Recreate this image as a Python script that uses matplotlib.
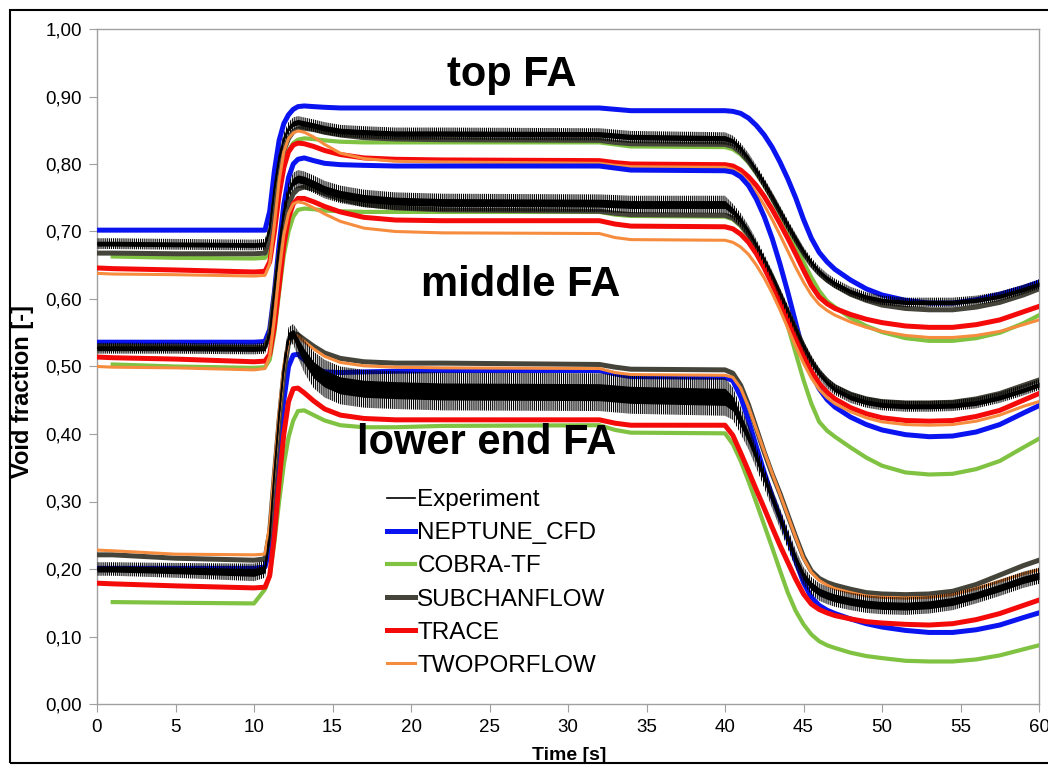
import numpy as np
import matplotlib.pyplot as plt
from matplotlib.ticker import FuncFormatter, MultipleLocator
from matplotlib.patches import Rectangle

plt.rcParams['font.family'] = ['Liberation Sans', 'DejaVu Sans']
plt.rcParams['hatch.linewidth'] = 0.8

# time knots [s], shared by all curves
t = [0, 1, 5, 10, 10.7, 11.0, 11.3, 11.6, 11.9, 12.2, 12.5, 12.8, 13.2, 13.8, 14.5, 15.5, 17, 19, 22, 32, 33, 34,
     40, 40.5, 41, 41.5, 42, 42.5, 43, 43.5, 44, 44.5, 45, 45.5, 46, 46.5, 47, 48, 49, 50, 51.5, 53, 54.5, 56, 57.5, 59, 60]
nan = np.nan

# ---------------- top FA ----------------
neptune_top = [0.702, 0.702, 0.702, 0.702, 0.702, 0.73, 0.79, 0.835, 0.86, 0.873, 0.881, 0.885, 0.886, 0.885, 0.884, 0.883, 0.883, 0.883, 0.883, 0.883, 0.881, 0.879,
               0.879, 0.878, 0.875, 0.868, 0.857, 0.843, 0.825, 0.803, 0.778, 0.750, 0.718, 0.690, 0.669, 0.655, 0.644, 0.628, 0.615, 0.606, 0.598, 0.594, 0.594, 0.599, 0.607, 0.617, 0.625]
cobra_top = [nan, 0.663, 0.661, 0.660, 0.661, 0.672, 0.71, 0.76, 0.797, 0.82, 0.831, 0.836, 0.838, 0.837, 0.835, 0.833, 0.832, 0.832, 0.832, 0.832, 0.829, 0.826,
             0.825, 0.822, 0.814, 0.802, 0.786, 0.768, 0.748, 0.726, 0.703, 0.680, 0.655, 0.632, 0.612, 0.597, 0.588, 0.572, 0.560, 0.551, 0.542, 0.538, 0.538, 0.542, 0.550, 0.564, 0.576]
subchan_top = [0.668, 0.668, 0.667, 0.667, 0.668, 0.69, 0.745, 0.79, 0.82, 0.838, 0.848, 0.852, 0.853, 0.851, 0.847, 0.843, 0.839, 0.837, 0.836, 0.835, 0.832, 0.830,
               0.829, 0.826, 0.817, 0.804, 0.788, 0.770, 0.750, 0.729, 0.708, 0.688, 0.668, 0.651, 0.638, 0.628, 0.620, 0.607, 0.598, 0.591, 0.586, 0.584, 0.584, 0.588, 0.595, 0.606, 0.615]
trace_top = [0.646, 0.645, 0.643, 0.640, 0.641, 0.655, 0.70, 0.755, 0.795, 0.818, 0.828, 0.831, 0.830, 0.826, 0.82, 0.814, 0.809, 0.807, 0.806, 0.805, 0.802, 0.800,
             0.799, 0.797, 0.791, 0.781, 0.768, 0.752, 0.733, 0.712, 0.690, 0.667, 0.643, 0.620, 0.603, 0.593, 0.586, 0.577, 0.570, 0.565, 0.560, 0.558, 0.558, 0.562, 0.569, 0.581, 0.589]
twopor_top = [0.638, 0.637, 0.636, 0.634, 0.635, 0.652, 0.71, 0.775, 0.818, 0.838, 0.846, 0.849, 0.847, 0.84, 0.829, 0.816, 0.808, 0.804, 0.803, 0.801, 0.798, 0.796,
              0.795, 0.792, 0.785, 0.773, 0.757, 0.739, 0.718, 0.695, 0.671, 0.647, 0.625, 0.606, 0.592, 0.583, 0.576, 0.566, 0.558, 0.552, 0.546, 0.543, 0.543, 0.546, 0.552, 0.562, 0.569]
exp_top = [0.682, 0.682, 0.681, 0.680, 0.681, 0.705, 0.765, 0.81, 0.838, 0.853, 0.860, 0.862, 0.860, 0.857, 0.853, 0.849, 0.847, 0.845, 0.845, 0.844, 0.842, 0.840,
           0.838, 0.834, 0.823, 0.808, 0.790, 0.771, 0.751, 0.730, 0.709, 0.689, 0.670, 0.654, 0.641, 0.631, 0.623, 0.611, 0.603, 0.598, 0.595, 0.595, 0.595, 0.598, 0.604, 0.614, 0.622]
exp_top_spread = [0.008, 0.008, 0.008, 0.008, 0.008, 0.008, 0.008, 0.008, 0.008, 0.009, 0.009, 0.009, 0.009, 0.009, 0.009, 0.009, 0.009, 0.009, 0.009, 0.009, 0.009, 0.009,
                  0.009, 0.008, 0.008, 0.008, 0.008, 0.008, 0.008, 0.008, 0.008, 0.008, 0.007, 0.007, 0.007, 0.007, 0.007, 0.007, 0.007, 0.007, 0.007, 0.007, 0.007, 0.007, 0.007, 0.007, 0.007]

# ---------------- middle FA ----------------
neptune_mid = [0.536, 0.536, 0.536, 0.536, 0.537, 0.555, 0.61, 0.68, 0.74, 0.78, 0.80, 0.807, 0.809, 0.805, 0.801, 0.799, 0.798, 0.797, 0.797, 0.797, 0.794, 0.791,
               0.790, 0.788, 0.781, 0.768, 0.748, 0.722, 0.690, 0.652, 0.610, 0.565, 0.520, 0.490, 0.467, 0.451, 0.440, 0.425, 0.414, 0.406, 0.399, 0.396, 0.397, 0.403, 0.414, 0.431, 0.442]
cobra_mid = [nan, 0.503, 0.500, 0.498, 0.499, 0.51, 0.55, 0.61, 0.665, 0.70, 0.722, 0.732, 0.734, 0.733, 0.731, 0.730, 0.729, 0.729, 0.729, 0.729, 0.725, 0.723,
             0.722, 0.718, 0.708, 0.693, 0.674, 0.652, 0.627, 0.596, 0.560, 0.520, 0.480, 0.445, 0.418, 0.405, 0.396, 0.380, 0.365, 0.353, 0.343, 0.340, 0.341, 0.348, 0.360, 0.380, 0.393]
subchan_mid = [0.530, 0.530, 0.529, 0.528, 0.529, 0.548, 0.605, 0.665, 0.71, 0.74, 0.756, 0.763, 0.766, 0.763, 0.756, 0.748, 0.740, 0.735, 0.732, 0.730, 0.727, 0.725,
               0.724, 0.720, 0.710, 0.695, 0.676, 0.655, 0.632, 0.607, 0.581, 0.555, 0.530, 0.508, 0.491, 0.479, 0.470, 0.459, 0.452, 0.448, 0.446, 0.446, 0.447, 0.452, 0.460, 0.472, 0.480]
trace_mid = [0.514, 0.513, 0.511, 0.507, 0.508, 0.518, 0.56, 0.62, 0.68, 0.72, 0.741, 0.749, 0.749, 0.744, 0.737, 0.729, 0.721, 0.717, 0.716, 0.716, 0.711, 0.708,
             0.707, 0.704, 0.696, 0.684, 0.667, 0.646, 0.622, 0.596, 0.569, 0.542, 0.516, 0.493, 0.475, 0.462, 0.452, 0.439, 0.430, 0.424, 0.420, 0.419, 0.420, 0.426, 0.435, 0.450, 0.460]
twopor_mid = [0.500, 0.499, 0.498, 0.495, 0.497, 0.515, 0.57, 0.64, 0.695, 0.727, 0.741, 0.744, 0.742, 0.735, 0.726, 0.715, 0.705, 0.700, 0.698, 0.697, 0.691, 0.688,
              0.687, 0.684, 0.677, 0.666, 0.650, 0.631, 0.609, 0.584, 0.557, 0.530, 0.505, 0.483, 0.466, 0.454, 0.445, 0.433, 0.424, 0.418, 0.414, 0.413, 0.414, 0.419, 0.428, 0.441, 0.448]
exp_mid = [0.527, 0.527, 0.527, 0.526, 0.527, 0.55, 0.615, 0.68, 0.73, 0.76, 0.774, 0.778, 0.776, 0.770, 0.762, 0.755, 0.749, 0.745, 0.743, 0.742, 0.741, 0.740,
           0.740, 0.730, 0.717, 0.700, 0.680, 0.658, 0.634, 0.608, 0.582, 0.556, 0.530, 0.508, 0.490, 0.476, 0.466, 0.454, 0.447, 0.443, 0.441, 0.441, 0.442, 0.446, 0.454, 0.465, 0.473]
exp_mid_spread = [0.008, 0.008, 0.008, 0.008, 0.008, 0.008, 0.009, 0.010, 0.011, 0.012, 0.013, 0.013, 0.013, 0.013, 0.013, 0.013, 0.013, 0.013, 0.013, 0.013, 0.013, 0.013,
                  0.013, 0.011, 0.010, 0.009, 0.008, 0.008, 0.008, 0.008, 0.008, 0.008, 0.008, 0.008, 0.008, 0.008, 0.008, 0.008, 0.008, 0.008, 0.008, 0.008, 0.008, 0.008, 0.008, 0.008, 0.008]

# ---------------- lower end FA ----------------
neptune_low = [0.201, 0.201, 0.201, 0.201, 0.203, 0.23, 0.30, 0.38, 0.45, 0.50, 0.517, 0.518, 0.51, 0.498, 0.492, 0.491, 0.492, 0.493, 0.494, 0.494, 0.489, 0.485,
               0.484, 0.479, 0.455, 0.420, 0.381, 0.343, 0.308, 0.277, 0.245, 0.212, 0.180, 0.158, 0.146, 0.139, 0.134, 0.126, 0.119, 0.114, 0.109, 0.106, 0.106, 0.110, 0.117, 0.128, 0.135]
cobra_low = [nan, 0.151, 0.150, 0.149, 0.17, 0.19, 0.24, 0.30, 0.355, 0.395, 0.42, 0.434, 0.435, 0.428, 0.42, 0.413, 0.41, 0.41, 0.412, 0.413, 0.406, 0.402,
             0.401, 0.385, 0.36, 0.330, 0.298, 0.265, 0.232, 0.198, 0.165, 0.138, 0.118, 0.103, 0.093, 0.087, 0.083, 0.076, 0.071, 0.068, 0.064, 0.063, 0.063, 0.066, 0.072, 0.081, 0.087]
subchan_low = [0.221, 0.221, 0.216, 0.213, 0.215, 0.255, 0.34, 0.42, 0.49, 0.535, 0.549, 0.547, 0.540, 0.530, 0.520, 0.512, 0.507, 0.505, 0.505, 0.503, 0.499, 0.496,
               0.495, 0.490, 0.472, 0.443, 0.408, 0.373, 0.341, 0.312, 0.280, 0.248, 0.218, 0.197, 0.186, 0.180, 0.176, 0.170, 0.165, 0.163, 0.162, 0.163, 0.167, 0.177, 0.191, 0.205, 0.213]
trace_low = [0.179, 0.178, 0.175, 0.172, 0.173, 0.19, 0.25, 0.33, 0.40, 0.448, 0.467, 0.468, 0.461, 0.449, 0.437, 0.428, 0.423, 0.421, 0.421, 0.421, 0.416, 0.413,
             0.413, 0.398, 0.372, 0.345, 0.317, 0.290, 0.262, 0.235, 0.210, 0.185, 0.163, 0.148, 0.140, 0.135, 0.131, 0.126, 0.122, 0.120, 0.118, 0.117, 0.119, 0.125, 0.134, 0.146, 0.154]
twopor_low = [0.228, 0.227, 0.222, 0.221, 0.222, 0.265, 0.35, 0.43, 0.50, 0.538, 0.548, 0.545, 0.537, 0.526, 0.515, 0.506, 0.501, 0.499, 0.498, 0.497, 0.491, 0.488,
              0.487, 0.484, 0.468, 0.440, 0.407, 0.374, 0.342, 0.311, 0.279, 0.247, 0.216, 0.195, 0.183, 0.176, 0.171, 0.165, 0.160, 0.158, 0.157, 0.158, 0.162, 0.171, 0.182, 0.193, 0.199]
exp_low = [0.200, 0.200, 0.198, 0.195, 0.20, 0.25, 0.345, 0.43, 0.50, 0.545, 0.548, 0.533, 0.515, 0.495, 0.482, 0.472, 0.467, 0.465, 0.463, 0.462, 0.460, 0.458,
           0.455, 0.445, 0.420, 0.395, 0.365, 0.335, 0.305, 0.275, 0.245, 0.215, 0.190, 0.175, 0.166, 0.161, 0.157, 0.152, 0.148, 0.146, 0.145, 0.147, 0.152, 0.161, 0.172, 0.184, 0.190]
exp_low_spread = [0.010, 0.010, 0.011, 0.013, 0.013, 0.013, 0.013, 0.013, 0.013, 0.013, 0.015, 0.020, 0.024, 0.027, 0.028, 0.028, 0.028, 0.028, 0.028, 0.028, 0.028, 0.028,
                  0.028, 0.024, 0.020, 0.018, 0.016, 0.015, 0.015, 0.015, 0.015, 0.014, 0.013, 0.013, 0.013, 0.013, 0.013, 0.013, 0.013, 0.013, 0.013, 0.013, 0.013, 0.012, 0.012, 0.012, 0.012]

codes = ['NEPTUNE_CFD', 'COBRA-TF', 'SUBCHANFLOW', 'TRACE', 'TWOPORFLOW']
colors = ['#0A14F0', '#80C242', '#45443A', '#F50A0A', '#F68C3E']
widths = [3.6, 3.0, 3.6, 3.6, 2.2]

groups = [
    ([neptune_top, cobra_top, subchan_top, trace_top, twopor_top], exp_top, exp_top_spread),
    ([neptune_mid, cobra_mid, subchan_mid, trace_mid, twopor_mid], exp_mid, exp_mid_spread),
    ([neptune_low, cobra_low, subchan_low, trace_low, twopor_low], exp_low, exp_low_spread),
]

fig = plt.figure(figsize=(10.48, 7.68), dpi=100)
ax = fig.add_axes([97 / 1048, 1 - 704 / 768, (1039 - 97) / 1048, (704 - 29) / 768])

tt = np.array(t)
for i, (models, ex, sp) in enumerate(groups):
    for name, col, lw, vals in zip(codes, colors, widths, models):
        ax.plot(tt, vals, color=col, lw=lw, solid_joinstyle='round',
                label=name if i == 0 else None, zorder=3)
    ex = np.array(ex)
    sp = np.array(sp)
    # noisy measurement: solid core + hatched fringe
    ax.fill_between(tt, ex - 0.45 * sp, ex + 0.45 * sp, color='black', lw=0, zorder=4)
    ax.fill_between(tt, ex - sp, ex + sp, facecolor='none', edgecolor='black',
                    hatch='||||||||', lw=0, zorder=4)
    ax.plot(tt, ex, color='black', lw=1.2, zorder=4, label='Experiment' if i == 0 else None)

ax.set_xlim(0, 60)
ax.set_ylim(0, 1.0)
ax.xaxis.set_major_locator(MultipleLocator(5))
ax.yaxis.set_major_locator(MultipleLocator(0.1))
ax.yaxis.set_major_formatter(FuncFormatter(lambda v, p: f"{v:.2f}".replace('.', ',')))
for s in ax.spines.values():
    s.set_color('#a0a0a0')
    s.set_linewidth(1.0)
ax.tick_params(axis='both', direction='out', length=6, color='#a0a0a0', labelsize=13.5, pad=5)

fig.text(569 / 1048, 1 - 755 / 768, 'Time [s]', fontsize=14, fontweight='bold', ha='center', va='center')
fig.text(23 / 1048, 1 - 391 / 768, 'Void fraction [-]', fontsize=17, fontweight='bold',
         rotation=90, ha='center', va='center')

ax.text(26.4, 0.932, 'top FA', fontsize=30, fontweight='bold', ha='center', va='center', zorder=6)
ax.text(27.0, 0.621, 'middle FA', fontsize=30, fontweight='bold', ha='center', va='center', zorder=6)
ax.text(24.8, 0.387, 'lower end FA', fontsize=30, fontweight='bold', ha='center', va='center', zorder=6)

h, l = ax.get_legend_handles_labels()
order = [l.index(n) for n in ['Experiment'] + codes]
ax.legend([h[k] for k in order], [l[k] for k in order], loc='upper left',
          bbox_to_anchor=(387 / 1048, 1 - 489 / 768), bbox_transform=fig.transFigure,
          frameon=False, fontsize=17.5, handlelength=1.15, handletextpad=0.1,
          labelspacing=0.46, borderpad=0, borderaxespad=0)

fig.patches.append(Rectangle((10 / 1048, 1 - 763 / 768), 1.1, (763 - 10) / 768,
                             transform=fig.transFigure, fill=False, edgecolor='black', lw=1.5))

fig.savefig('out.png', dpi=100)
